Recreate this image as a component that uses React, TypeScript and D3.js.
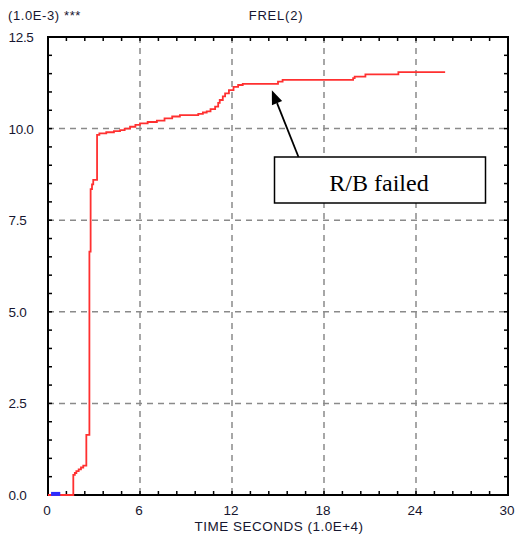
import React from "react";
import * as d3 from "d3";

const W = 517;
const H = 536;

const xMajorTicks = [0, 6, 12, 18, 24, 30];
const yMajorTicks = [0, 2.5, 5, 7.5, 10, 12.5];
const yTickLabels = ["0.0", "2.5", "5.0", "7.5", "10.0", "12.5"];
const xGrid = [6, 12, 18, 24];
const yGrid = [2.5, 5, 7.5, 10];

const redTime = [0, 1.65, 1.75, 1.85, 2.0, 2.15, 2.3, 2.5, 2.7, 2.78, 2.87, 2.95, 3.2, 3.35, 3.8, 4.3, 4.7, 5.0, 5.35, 5.7, 6.0, 6.5, 7.1, 7.6, 8.1, 8.6, 9.8, 10.1, 10.35, 10.6, 10.9, 11.1, 11.2, 11.4, 11.55, 11.8, 12.1, 12.4, 12.7, 15.0, 15.3, 19.9, 20.0, 20.7, 22.85, 25.9];
const redValue = [0, 0.55, 0.6, 0.65, 0.7, 0.75, 0.8, 1.64, 6.64, 8.35, 8.48, 8.6, 9.83, 9.87, 9.9, 9.93, 9.96, 10.0, 10.05, 10.1, 10.14, 10.18, 10.22, 10.28, 10.33, 10.37, 10.4, 10.44, 10.47, 10.53, 10.6, 10.7, 10.78, 10.88, 10.96, 11.05, 11.14, 11.19, 11.22, 11.28, 11.33, 11.38, 11.42, 11.48, 11.54, 11.54];

const blueTime = [0.2, 0.8];
const blueValue = [0.03, 0.03];

const annotationText = "R/B failed";
const annotationPoint = { t: 14.6, v: 11.05 };

export default function App() {
  const left = 48, right = 508, top = 37, bottom = 495;
  const x = d3.scaleLinear().domain([0, 30]).range([left, right]);
  const y = d3.scaleLinear().domain([0, 12.5]).range([bottom, top]);

  const xMinor = d3.range(0, 30.001, 1.2);
  const yMinor = d3.range(0, 12.501, 0.5);

  const line = d3.line<number>().x((d, i) => x(redTime[i])).y((d) => y(d)).curve(d3.curveStepAfter);
  const blueLine = d3.line<number>().x((d, i) => x(blueTime[i])).y((d) => y(d));

  const font = "'Liberation Sans', Arial, sans-serif";
  const textColor = "#161630";

  const tipX = x(annotationPoint.t);
  const tipY = y(annotationPoint.v);
  const tailX = 298.5, tailY = 157;
  const ang = Math.atan2(tipY - tailY, tipX - tailX);
  const ah = 14, aw = 5.5;
  const bx = tipX - ah * Math.cos(ang), by = tipY - ah * Math.sin(ang);
  const p1 = [bx + aw * Math.sin(ang), by - aw * Math.cos(ang)];
  const p2 = [bx - aw * Math.sin(ang), by + aw * Math.cos(ang)];

  return (
    <svg width={W} height={H} style={{ position: "absolute", left: 0, top: 0, background: "#fff" }}>
      <rect x={0} y={0} width={W} height={H} fill="#fff" />
      {xGrid.map((t) => (
        <line key={"xg" + t} x1={x(t)} x2={x(t)} y1={top} y2={bottom} stroke="#8a8a8a" strokeWidth={1.5} strokeDasharray="6,5" />
      ))}
      {yGrid.map((t) => (
        <line key={"yg" + t} x1={left} x2={right} y1={y(t)} y2={y(t)} stroke="#8a8a8a" strokeWidth={1.5} strokeDasharray="6,5" />
      ))}
      {xMinor.map((t, i) => (
        <g key={"xt" + i}>
          <line x1={x(t)} x2={x(t)} y1={bottom} y2={bottom - 4} stroke="#000" strokeWidth={1.5} />
          <line x1={x(t)} x2={x(t)} y1={top} y2={top + 4} stroke="#000" strokeWidth={1.5} />
        </g>
      ))}
      {yMinor.map((t, i) => (
        <g key={"yt" + i}>
          <line x1={left} x2={left + 4} y1={y(t)} y2={y(t)} stroke="#000" strokeWidth={1.5} />
          <line x1={right} x2={right - 4} y1={y(t)} y2={y(t)} stroke="#000" strokeWidth={1.5} />
        </g>
      ))}
      <rect x={left} y={top} width={right - left} height={bottom - top} fill="none" stroke="#000" strokeWidth={2} />
      <path d={line(redValue) || ""} fill="none" stroke="#ff3030" strokeWidth={1.8} />
      <path d={blueLine(blueValue) || ""} fill="none" stroke="#2b2bff" strokeWidth={4} />
      <text x={8} y={20} fontFamily={font} fontSize={13} fill={textColor} letterSpacing={0.6}>(1.0E-3) ***</text>
      <text x={276} y={20} fontFamily={font} fontSize={13} fill={textColor} textAnchor="middle" letterSpacing={0.8}>FREL(2)</text>
      {yMajorTicks.map((t, i) => (
        <text key={"yl" + t} x={8.5} y={y(t) + 5} fontFamily={font} fontSize={13.5} fill={textColor} letterSpacing={-0.3}>{yTickLabels[i]}</text>
      ))}
      {xMajorTicks.map((t) => (
        <text key={"xl" + t} x={x(t) - 1} y={515} fontFamily={font} fontSize={13.5} fill={textColor} textAnchor="middle">{t}</text>
      ))}
      <text x={279} y={531} fontFamily={font} fontSize={13.5} fill={textColor} textAnchor="middle" letterSpacing={0.5}>TIME SECONDS  (1.0E+4)</text>
      <line x1={tailX} y1={tailY} x2={bx} y2={by} stroke="#000" strokeWidth={1.8} />
      <polygon points={`${tipX},${tipY} ${p1[0]},${p1[1]} ${p2[0]},${p2[1]}`} fill="#000" />
      <rect x={274.5} y={157} width={211} height={46} fill="#fff" stroke="#000" strokeWidth={1.5} />
      <text x={379} y={190.5} fontFamily="'Liberation Serif', 'Times New Roman', serif" fontSize={24} fill="#000" textAnchor="middle">{annotationText}</text>
    </svg>
  );
}
